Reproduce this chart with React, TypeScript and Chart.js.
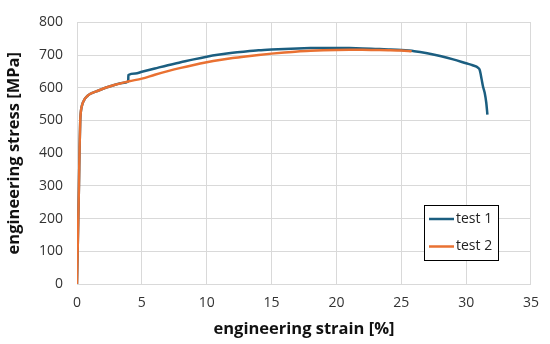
import React, { useEffect, useRef } from "react";
import { Chart, registerables } from "chart.js";

Chart.register(...registerables);

const seriesNames = ["test 1", "test 2"];
const seriesColors = ["#1B5E80", "#E97132"];

const strain1 = [0, 0.05, 0.1, 0.15, 0.2, 0.25, 0.3, 0.4, 0.6, 0.8, 1.0, 1.5, 2, 2.5, 3, 3.5, 3.95, 3.96, 4.5, 5, 6, 7, 8, 9, 10, 11, 12, 13, 14, 15, 16, 17, 18, 19, 20, 21, 22, 23, 24, 25, 26, 27, 28, 29, 30, 30.5, 30.93, 31.05, 31.2, 31.3, 31.43, 31.55, 31.64];
const stress1 = [0, 100, 200, 300, 420, 500, 528, 548, 566, 575, 581, 589, 597, 604, 610, 615, 619, 639, 644, 649, 659, 669, 678, 687, 695, 701.5, 707, 711, 714.5, 717, 719, 720.5, 721.5, 722, 722, 721.5, 720.5, 719, 717.5, 715.5, 712, 705.5, 697, 687, 675, 669, 661, 654, 625, 604, 585, 555, 518];

const strain2 = [0, 0.05, 0.1, 0.15, 0.2, 0.25, 0.3, 0.4, 0.6, 0.8, 1.0, 1.5, 2, 2.5, 3, 3.5, 4, 5, 6, 7, 8, 9, 10, 11, 12, 13, 14, 15, 16, 17, 18, 19, 20, 21, 22, 23, 24, 25, 25.8];
const stress2 = [0, 100, 200, 300, 420, 500, 528, 548, 566, 575, 581, 589, 597, 604, 610, 615, 620, 628, 640, 651, 661, 670, 678, 685, 691, 696, 700.5, 704.5, 708, 711, 713, 714.5, 715.5, 716, 716, 715.5, 715, 714, 712];

const xTicks = [0, 5, 10, 15, 20, 25, 30, 35];
const yTicks = [0, 100, 200, 300, 400, 500, 600, 700, 800];

const FONT = "'Open Sans', 'DejaVu Sans', sans-serif";

const boxLegend = {
  id: "boxLegend",
  afterDraw(chart: any) {
    const ctx = chart.ctx;
    const x0 = 424, y0 = 205, w = 74, h = 55;
    ctx.save();
    ctx.fillStyle = "#ffffff";
    ctx.fillRect(x0, y0, w, h);
    ctx.strokeStyle = "#000000";
    ctx.lineWidth = 1;
    ctx.strokeRect(x0 + 0.5, y0 + 0.5, w, h);
    const rows = [219, 246.5];
    chart.data.datasets.forEach((ds: any, i: number) => {
      const y = rows[i];
      ctx.strokeStyle = ds.borderColor;
      ctx.lineWidth = 2.5;
      ctx.beginPath();
      ctx.moveTo(429, y);
      ctx.lineTo(454, y);
      ctx.stroke();
      ctx.fillStyle = "#222222";
      ctx.font = `14px ${FONT}`;
      ctx.textBaseline = "middle";
      ctx.textAlign = "left";
      ctx.fillText(ds.label, 456, y);
    });
    ctx.restore();
  },
};

export default function App() {
  const ref = useRef<HTMLCanvasElement>(null);
  useEffect(() => {
    if (!ref.current) return;
    const d1 = strain1.map((x, i) => ({ x, y: stress1[i] }));
    const d2 = strain2.map((x, i) => ({ x, y: stress2[i] }));
    const chart = new Chart(ref.current, {
      type: "scatter",
      data: {
        datasets: [
          { label: seriesNames[0], data: d1, showLine: true, borderColor: seriesColors[0], backgroundColor: seriesColors[0], borderWidth: 2.5, pointRadius: 0, order: 1, cubicInterpolationMode: "monotone" },
          { label: seriesNames[1], data: d2, showLine: true, borderColor: seriesColors[1], backgroundColor: seriesColors[1], borderWidth: 2.5, pointRadius: 0, order: 0, cubicInterpolationMode: "monotone" },
        ],
      },
      options: {
        animation: false,
        responsive: false,
        layout: { padding: { left: 0, top: 14, right: 15, bottom: 0 } },
        plugins: { legend: { display: false }, tooltip: { enabled: false } },
        scales: {
          x: {
            type: "linear",
            min: 0,
            max: 35,
            afterFit: (s: any) => { s.height = 60; },
            afterBuildTicks: (s: any) => { s.ticks = xTicks.map((v) => ({ value: v })); },
            grid: { color: "#d9d9d9", drawTicks: false, lineWidth: 1 },
            border: { color: "#d9d9d9" },
            ticks: { padding: 11, color: "#333333", font: { size: 14, family: FONT } },
            title: { display: true, text: "engineering strain [%]", color: "#111111", font: { size: 16.5, weight: "bold", family: FONT, lineHeight: 1.2 }, padding: { top: 0, bottom: 5 } },
          },
          y: {
            type: "linear",
            min: 0,
            max: 800,
            afterFit: (s: any) => { s.width = 77; },
            afterBuildTicks: (s: any) => { s.ticks = yTicks.map((v) => ({ value: v })); },
            grid: { color: "#d9d9d9", drawTicks: false, lineWidth: 1 },
            border: { color: "#d9d9d9" },
            ticks: { padding: 14, color: "#333333", font: { size: 14, family: FONT } },
            title: { display: true, text: "engineering stress [MPa]", color: "#111111", font: { size: 16.5, weight: "bold", family: FONT, lineHeight: 1.2 }, padding: { top: 4, bottom: 0 } },
          },
        },
      },
      plugins: [boxLegend],
    });
    return () => chart.destroy();
  }, []);
  return (
    <div style={{ position: "fixed", left: 0, top: 0, width: 550, height: 344, background: "#fff" }}>
      <canvas ref={ref} width={550} height={344} style={{ width: 550, height: 344 }} />
    </div>
  );
}
